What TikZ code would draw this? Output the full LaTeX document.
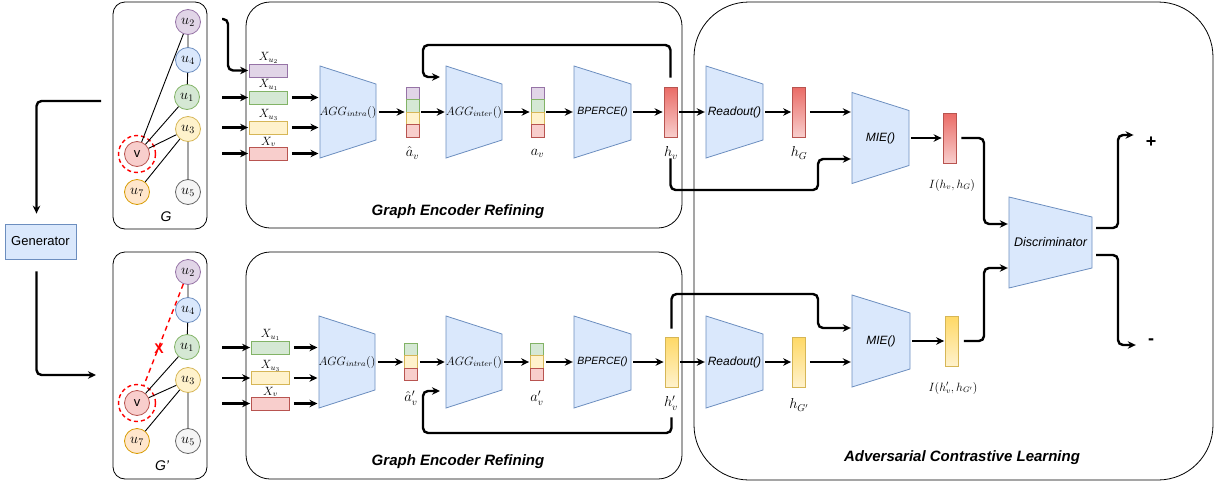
\documentclass[tikz,border=0pt]{standalone}
\usepackage{fontspec}
\setsansfont{Liberation Sans}
\usepackage{tikz}
\usetikzlibrary{arrows.meta,positioning}

\definecolor{purpF}{HTML}{E1D5E7}
\definecolor{purpD}{HTML}{9673A6}
\definecolor{blueF}{HTML}{DAE8FC}
\definecolor{blueD}{HTML}{6C8EBF}
\definecolor{greenF}{HTML}{D5E8D4}
\definecolor{greenD}{HTML}{82B366}
\definecolor{yellF}{HTML}{FFF2CC}
\definecolor{yellD}{HTML}{D6B656}
\definecolor{yellG}{HTML}{FFD966}
\definecolor{redF}{HTML}{F8CECC}
\definecolor{redD}{HTML}{B85450}
\definecolor{redG}{HTML}{EA6B66}
\definecolor{orangeF}{HTML}{FFE6CC}
\definecolor{orangeD}{HTML}{D79B00}
\definecolor{grayF}{HTML}{F5F5F5}
\definecolor{grayD}{HTML}{666666}
\definecolor{cutred}{HTML}{FF0000}

\newcommand{\setfs}[1]{\fontsize{#1}{#1}\selectfont}

% trapezoid block: name, x, y, width, left height, right height, text
\newcommand{\trapblock}[7]{%
  \filldraw[trapbox] ({#2-#4/2},{#3-#5/2}) -- ({#2+#4/2},{#3-#6/2})
    -- ({#2+#4/2},{#3+#6/2}) -- ({#2-#4/2},{#3+#5/2}) -- cycle;
  \node[trapnode, minimum width=#4pt, minimum height=#6pt] (#1) at (#2,#3) {#7};}

\tikzset{
  panel/.style={draw, rounded corners=24pt, line width=0.8pt, inner sep=0pt},
  title/.style={font=\setfs{15}\sffamily\bfseries\itshape, inner sep=0pt},
  gnode/.style={circle, draw, line width=0.8pt, minimum size=25pt, inner sep=0pt, font=\setfs{14.4}},
  purpnode/.style={gnode, fill=purpF, draw=purpD},
  bluenode/.style={gnode, fill=blueF, draw=blueD},
  greennode/.style={gnode, fill=greenF, draw=greenD},
  yellnode/.style={gnode, fill=yellF, draw=yellD},
  rednode/.style={gnode, fill=redF, draw=redD, font=\setfs{13}\sffamily},
  orangenode/.style={gnode, fill=orangeF, draw=orangeD},
  graynode/.style={gnode, fill=grayF, draw=grayD},
  gedge/.style={line width=0.9pt},
  ringmark/.style={circle, draw=cutred, line width=1.4pt, dash pattern=on 4pt off 3pt, minimum size=37pt, inner sep=0pt},
  cutedge/.style={draw=cutred, line width=1.4pt, dash pattern=on 5pt off 4pt},
  xmark/.style={text=cutred, font=\setfs{14}\sffamily\bfseries, inner sep=0pt},
  glabel/.style={font=\setfs{14}\sffamily\itshape, inner sep=0pt},
  genbox/.style={draw=blueD, fill=blueF, line width=0.8pt, minimum width=71pt, minimum height=35pt, font=\setfs{13}\sffamily},
  feat/.style={rectangle, line width=0.8pt, minimum width=38pt, minimum height=13pt, inner sep=0pt},
  flabel/.style={font=\setfs{12}, inner sep=0.5pt},
  cell/.style={rectangle, line width=0.8pt, minimum width=13pt, minimum height=12.5pt, inner sep=0pt},
  vec/.style={rectangle, line width=0.8pt, minimum width=13pt, minimum height=50pt, inner sep=0pt},
  redvec/.style={vec, top color=redG, bottom color=redF, draw=redD},
  yellvec/.style={vec, top color=yellG, bottom color=yellF, draw=yellD},
  mlabel/.style={font=\setfs{14.4}, inner sep=0pt},
  trapbox/.style={fill=blueF, draw=blueD, line width=0.8pt},
  trapnode/.style={inner sep=0pt, font=\setfs{12}},
  signtext/.style={font=\setfs{18}\sffamily\bfseries, inner sep=0pt},
  flow/.style={line width=2.4pt, -{Stealth[length=8pt,width=7.5pt]}, rounded corners=5pt, shorten >=1pt, shorten <=2pt}
}

\begin{document}
\begin{tikzpicture}[x=1pt,y=-1pt]
\useasboundingbox (0,0) rectangle (1219,485);

% panels
\node[panel, rounded corners=12pt, minimum width=94pt, minimum height=227pt] (gbox) at (160,115.5) {};
\node[panel, rounded corners=12pt, minimum width=94pt, minimum height=227pt] (gpbox) at (160,365.5) {};
\node[panel, minimum width=436pt, minimum height=226pt] (encbox) at (464,115) {};
\node[panel, minimum width=436pt, minimum height=227pt] (encpbox) at (464,365.5) {};
\node[panel, rounded corners=55pt, minimum width=519pt, minimum height=478pt] (aclbox) at (953.5,241) {};
\node[title] (enctitle) at (458,212) {Graph Encoder Refining};
\node[title] (encptitle) at (458,462) {Graph Encoder Refining};
\node[title] (acltitle) at (962,458) {Adversarial Contrastive Learning};

% graph G
\node[purpnode] (u2) at (188,22) {$u_2$};
\node[bluenode] (u4) at (188,60) {$u_4$};
\node[greennode] (u1) at (187,97) {$u_1$};
\node[yellnode] (u3) at (188,129) {$u_3$};
\node[rednode] (v) at (137,154) {v};
\node[orangenode] (u7) at (137,192) {$u_7$};
\node[graynode] (u5) at (188,192) {$u_5$};
\node[ringmark] (vring) at (137,154) {};
\draw[gedge] (u2) -- (u4) (u4) -- (u1) (u2) -- (v) (u1) -- (v) (u3) -- (v) (u3) -- (u7) (u3) -- (u5);
\node[glabel] (glab) at (166,217) {G};

% graph G'
\node[purpnode] (u2b) at (188,272) {$u_2$};
\node[bluenode] (u4b) at (188,310) {$u_4$};
\node[greennode] (u1b) at (187,347) {$u_1$};
\node[yellnode] (u3b) at (188,380) {$u_3$};
\node[rednode] (vb) at (137,403) {v};
\node[orangenode] (u7b) at (137,441) {$u_7$};
\node[graynode] (u5b) at (188,441) {$u_5$};
\node[ringmark] (vringb) at (137,403) {};
\draw[gedge] (u2b) -- (u4b) (u4b) -- (u1b) (u1b) -- (vb) (u3b) -- (vb) (u3b) -- (u7b) (u3b) -- (u5b);
\draw[cutedge] (u2b) -- (vringb);
\node[xmark] (cut) at (159,349) {X};
\node[glabel] (gplab) at (162,466) {G'};

% generator
\node[genbox] (gen) at (40.5,241.5) {Generator};
\coordinate (gtap) at (103,101);
\coordinate (gpin) at (97,375);
\draw[flow, shorten >=10pt] (gtap) -| ([xshift=-4pt]gen.north);
\draw[flow, shorten <=12pt] ([xshift=-4pt]gen.south) |- (gpin);

% features, top
\node[feat, fill=purpF, draw=purpD] (xu2) at (268.5,70.5) {};
\node[feat, fill=greenF, draw=greenD] (xu1) at (268.5,97.5) {};
\node[feat, fill=yellF, draw=yellD] (xu3) at (268.5,127.5) {};
\node[feat, fill=redF, draw=redD] (xv) at (268.5,153.5) {};
\node[flabel, above=-1pt of xu2] (lxu2) {$X_{u_2}$};
\node[flabel, above=-1pt of xu1] (lxu1) {$X_{u_1}$};
\node[flabel, above=-1pt of xu3] (lxu3) {$X_{u_3}$};
\node[flabel, above=-1pt of xv] (lxv) {$X_v$};

% features, bottom
\node[feat, fill=greenF, draw=greenD] (xu1b) at (270.5,347.5) {};
\node[feat, fill=yellF, draw=yellD] (xu3b) at (270.5,378) {};
\node[feat, fill=redF, draw=redD] (xvb) at (270.5,403.5) {};
\node[flabel, above=-1pt of xu1b] (lxu1b) {$X_{u_1}$};
\node[flabel, above=-1pt of xu3b] (lxu3b) {$X_{u_3}$};
\node[flabel, above=-1pt of xvb] (lxvb) {$X_v$};

% blocks
\trapblock{intra}{348}{112}{56}{92}{56}{$AGG_{intra}()$}
\trapblock{inter}{474}{112}{56}{92}{56}{$AGG_{inter}()$}
\trapblock{bp}{602.5}{112}{57}{92}{56}{\setfs{10.5}\sffamily\itshape BPERCE()}
\trapblock{ro}{734.5}{112}{57}{92}{56}{\setfs{12}\sffamily\itshape Readout()}
\trapblock{mie}{880.5}{138}{57}{91}{55}{\setfs{12}\sffamily\itshape MIE()}
\trapblock{disc}{1050.5}{242.5}{83}{91}{51}{\setfs{12.5}\sffamily\itshape Discriminator}
\trapblock{intrab}{347}{362}{56}{92}{56}{$AGG_{intra}()$}
\trapblock{interb}{474}{362}{56}{92}{56}{$AGG_{inter}()$}
\trapblock{bpb}{602.5}{362}{57}{92}{56}{\setfs{10.5}\sffamily\itshape BPERCE()}
\trapblock{rob}{734.5}{362}{57}{92}{56}{\setfs{12}\sffamily\itshape Readout()}
\trapblock{mieb}{881}{341}{58}{92}{56}{\setfs{12}\sffamily\itshape MIE()}

% stacks
\foreach \c [count=\i] in {purp,green,yell,red} {
  \node[cell, fill=\c F, draw=\c D] (ah\i) at (412.5,{80.75+12.5*\i}) {};
  \node[cell, fill=\c F, draw=\c D] (av\i) at (537.5,{80.75+12.5*\i}) {};
}
\foreach \c [count=\i] in {green,yell,red} {
  \node[cell, fill=\c F, draw=\c D] (ahb\i) at (411,{337+12.5*\i}) {};
  \node[cell, fill=\c F, draw=\c D] (avb\i) at (537,{337+12.5*\i}) {};
}
\node[mlabel] (lah) at (412.5,153) {$\hat{a}_v$};
\node[mlabel] (lav) at (537.5,153) {$a_v$};
\node[mlabel] (lahb) at (411,398) {$\hat{a}'_v$};
\node[mlabel] (lavb) at (537,398) {$a'_v$};

% vectors
\node[redvec] (hv) at (670.5,112) {};
\node[redvec] (hg) at (799,112) {};
\node[redvec] (iv) at (949.5,138) {};
\node[yellvec] (hvb) at (671.5,362) {};
\node[yellvec] (hgb) at (799,362) {};
\node[yellvec] (ivb) at (952,341) {};
\node[mlabel] (lhv) at (671,153) {$h_v$};
\node[mlabel] (lhg) at (799,153) {$h_G$};
\node[mlabel, font=\setfs{12}] (liv) at (952,185) {$I(h_v, h_G)$};
\node[mlabel] (lhvb) at (671,403) {$h'_v$};
\node[mlabel] (lhgb) at (799,405) {$h_{G'}$};
\node[mlabel, font=\setfs{12}] (livb) at (953,388) {$I(h'_v, h_{G'})$};

% inputs
\coordinate (gout) at (220,0);
\draw[flow] (gout |- 0,19) -- ++(8,0) |- (xu2.west);
\foreach \b in {xu1,xu3,xv,xu1b,xu3b,xvb}
  \draw[flow] (\b.west -| gout) -- (\b.west);
\foreach \b in {xu1,xu3,xv}
  \draw[flow, shorten <=4pt] (\b.east) -- (\b.east -| intra.west);
\foreach \b in {xu1b,xu3b,xvb}
  \draw[flow, shorten <=4pt] (\b.east) -- (\b.east -| intrab.west);

% encoder flow, top
\draw[flow] (intra.east) -- (intra.east -| ah1.west);
\draw[flow] (ah1.east |- inter.west) -- (inter.west);
\draw[flow] (inter.east) -- (inter.east -| av1.west);
\draw[flow] (av1.east |- bp.west) -- (bp.west);
\draw[flow] (bp.east) -- (hv.west);
\coordinate (fbin) at (441,77);
\draw[flow, shorten <=9pt] (hv.north) |- (423,45) |- (fbin);

% encoder flow, bottom
\draw[flow] (intrab.east) -- (intrab.east -| ahb1.west);
\draw[flow] (ahb1.east |- interb.west) -- (interb.west);
\draw[flow] (interb.east) -- (interb.east -| avb1.west);
\draw[flow] (avb1.east |- bpb.west) -- (bpb.west);
\draw[flow] (bpb.east) -- (hvb.west);
\coordinate (fbinb) at (441,391);
\draw[flow, shorten <=30pt] (hvb.south) |- (423,433) |- (fbinb);

% contrastive part
\draw[flow] (hv.east) -- (ro.west);
\draw[flow] (ro.east) -- (hg.west);
\draw[flow, shorten <=4pt] (hg.east) -- (hg.east -| mie.west);
\draw[flow, shorten <=21pt] (hv.south) |- (818,190) |- (mie.west |- 0,159);
\draw[flow] (mie.east) -- (iv.west);
\draw[flow] (hvb.east) -- (rob.west);
\draw[flow] (rob.east) -- (hgb.west);
\draw[flow, shorten <=4pt] (hgb.east) -- (hgb.east -| mieb.west);
\draw[flow, shorten <=8pt] (hvb.north) |- (818,294) |- (mieb.west |- 0,328);
\draw[flow] (mieb.east) -- (ivb.west);
\draw[flow, shorten <=5pt] (iv.east) -| (984,224) -- (disc.west |- 0,224);
\draw[flow, shorten <=5pt] (ivb.east) -| (984,268) -- (disc.west |- 0,268);

% outputs
\node[signtext] (plus) at (1151,142) {+};
\node[signtext] (minus) at (1151,342) {-};
\draw[flow, shorten <=4pt, shorten >=12pt] (disc.east |- 0,228) -| (1118,135) -- (plus.west |- 0,135);
\draw[flow, shorten <=4pt, shorten >=12pt] (disc.east |- 0,255) -| (1118,345) -- (minus.west |- 0,345);
\end{tikzpicture}
\end{document}
